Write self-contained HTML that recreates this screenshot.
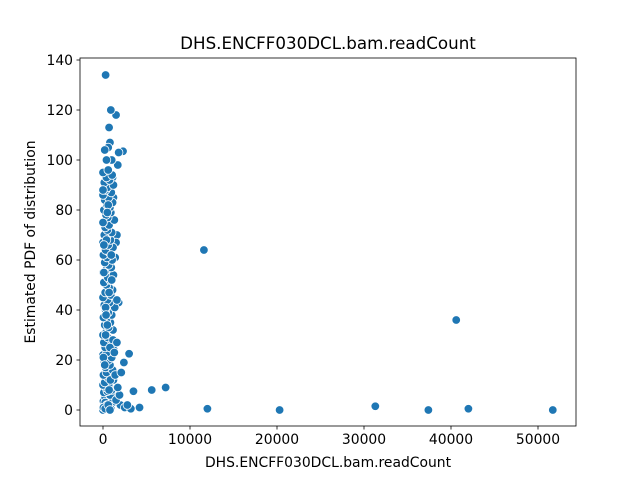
<!DOCTYPE html>
<html><head><meta charset="utf-8"><style>
body{margin:0;background:#fff;}
svg text{font-family:"DejaVu Sans","Liberation Sans",sans-serif;fill:#000;}
</style></head><body>
<svg id="chart" width="640" height="480">
<rect width="640" height="480" fill="#fff"/>
<g id="pts"></g>
<rect x="80" y="58" width="496" height="368" fill="none" stroke="#000" stroke-width="0.8"/>
<g id="ticks"></g>
<text x="328" y="49" font-size="16.7" text-anchor="middle">DHS.ENCFF030DCL.bam.readCount</text>
<text x="328" y="467" font-size="13.9" text-anchor="middle">DHS.ENCFF030DCL.bam.readCount</text>
<text transform="translate(35,242) rotate(-90)" font-size="13.9" text-anchor="middle">Estimated PDF of distribution</text>
</svg>
<script>
const xTicks=[0,10000,20000,30000,40000,50000];
const yTicks=[0,20,40,60,80,100,120,140];
const xVals=[11600,12000,20300,31300,37400,40600,42000,51700,7200,5600,3500,3000,4200,2300,1800,1700,1500,900,300,700,800,600,200,1000,400,2000,2500,3200,2800,1800,1600,1500,1400,1200,1100,
0,300,700,150,900,450,1100,50,600,250,1300,800,100,500,1000,350,0,700,200,1200,550,900,50,400,1100,300,800,150,650,1000,0,450,1250,250,750,100,950,550,0,350,1150,650,200,850,400,50,1000,600,300,1350,150,750,500,0,900,250,1100,700,400,100,800,550,1200,0,350,950,650,200,1050,450,50,750,300,1150,600,0,850,400,150,1000,500,250,700,0,1300,550,350,900,100,800,450,1100,200,650,0,950,300,500,1200,150,750,400,1050,0,600,250,850,50,1150,500,300,700,100,950,400,0,600,200,800,350,1000,100,500,0,700,300,150,900,450,50,250,600,800,1400,1600,1500,1900,1700,2100,2400,1300,1600];
const yVals=[64,0.5,0,1.5,0,36,0.5,0,9,8,7.5,22.5,1,103.5,103,98,118,120,134,113,107,105,104,100,100,2,1,0.5,2,43,70,67,61,85,93,
0,0.5,1,1.5,2,2.5,3,3.5,4,5,5.5,6,7,7.5,8,9,10,10.5,11,12,13,13.5,14,15,16,17,18,19,20,21,22,23,24,25,26,27,28,29,30,31,32,33,34,35,36,37,38,39,40,41,42,43,44,45,46,47,48,49,50,51,52,53,54,55,56,57,58,59,60,61,62,63,64,65,66,67,68,69,70,71,72,73,74,75,76,77,78,79,80,81,82,83,84,85,86,87,88,89,90,91,92,93,94,95,96,3,12,21,28,34,41,47,55,62,68,75,82,18,25,38,52,66,79,88,8,30,1,0.5,2,1,0.5,2,0,14,44,4,6,9,15,19,23,27,31,35,39,43,46,50,54,58,63,67,71,74,78,81,84,87,90];
const X=v=>103+v*0.0087, Y=v=>410-v*2.5;
const ns='http://www.w3.org/2000/svg';
const pts=document.getElementById('pts');
const n=Math.min(xVals.length,yVals.length);
for(let i=0;i<n;i++){
 const c=document.createElementNS(ns,'circle');
 c.setAttribute('cx',X(xVals[i]));c.setAttribute('cy',Y(yVals[i]));c.setAttribute('r',4.3);
 c.setAttribute('fill','#1f77b4');c.setAttribute('stroke','#fff');c.setAttribute('stroke-width',0.8);
 
 
 pts.appendChild(c);
}
const tk=document.getElementById('ticks');
xTicks.forEach(t=>{
 const l=document.createElementNS(ns,'line');
 l.setAttribute('x1',X(t));l.setAttribute('x2',X(t));l.setAttribute('y1',426);l.setAttribute('y2',429.5);l.setAttribute('stroke','#000');l.setAttribute('stroke-width',0.8);
 
 
 tk.appendChild(l);
 const s=document.createElementNS(ns,'text');
 s.setAttribute('x',X(t));s.setAttribute('y',444);s.setAttribute('font-size',13.9);s.setAttribute('text-anchor','middle');s.textContent=t;
 
 
 tk.appendChild(s);
});
yTicks.forEach(t=>{
 const l=document.createElementNS(ns,'line');
 l.setAttribute('x1',76.5);l.setAttribute('x2',80);l.setAttribute('y1',Y(t));l.setAttribute('y2',Y(t));l.setAttribute('stroke','#000');l.setAttribute('stroke-width',0.8);
 
 
 tk.appendChild(l);
 const s=document.createElementNS(ns,'text');
 s.setAttribute('x',73);s.setAttribute('y',Y(t)+5);s.setAttribute('font-size',13.9);s.setAttribute('text-anchor','end');s.textContent=t;
 
 
 tk.appendChild(s);
});
</script>
</body></html>
